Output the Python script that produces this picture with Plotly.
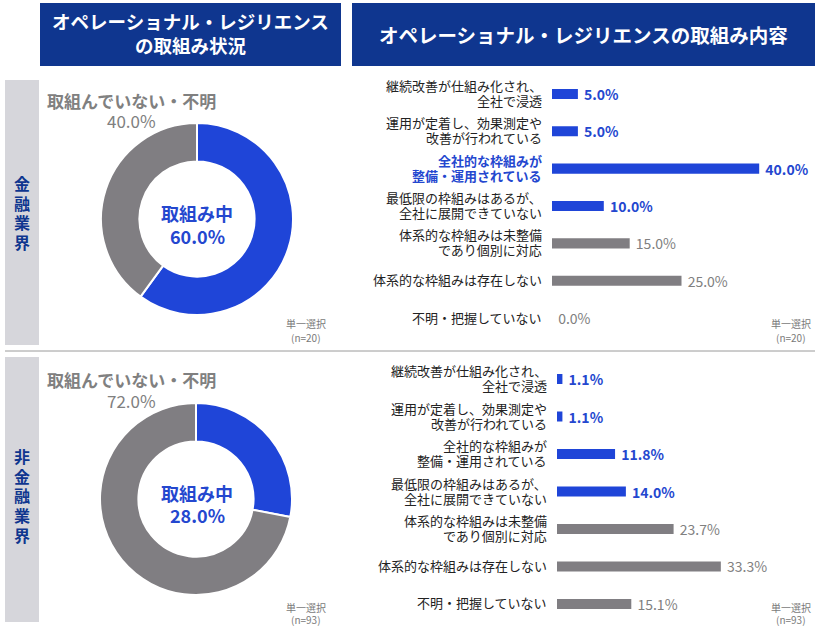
import plotly.graph_objects as go

W, H = 820, 630
def X(px): return px / W
def Y(py): return 1 - py / H

FONT = "Noto Sans CJK JP"
BLUE = "#1f45d8"
BLUE_TXT = "#2447cf"
GRAY = "#807e82"
GRAY_TXT = "#808080"
NAVY = "#0f368f"
STRIP = "#d6d6db"

# ---- data ----
header_left = ["オペレーショナル・レジリエンス", "の取組み状況"]
header_right = "オペレーショナル・レジリエンスの取組み内容"
segments = ["金融業界", "非金融業界"]
sample_n = [20, 93]
donut_labels = ["取組み中", "取組んでいない・不明"]
donut_fin = [60.0, 40.0]
donut_nonfin = [28.0, 72.0]
categories = [
    ["継続改善が仕組み化され、", "全社で浸透"],
    ["運用が定着し、効果測定や", "改善が行われている"],
    ["全社的な枠組みが", "整備・運用されている"],
    ["最低限の枠組みはあるが、", "全社に展開できていない"],
    ["体系的な枠組みは未整備", "であり個別に対応"],
    ["体系的な枠組みは存在しない"],
    ["不明・把握していない"],
]
active = [True, True, True, True, False, False, False]
bars_fin = [5.0, 5.0, 40.0, 10.0, 15.0, 25.0, 0.0]
bars_nonfin = [1.1, 1.1, 11.8, 14.0, 23.7, 33.3, 15.1]
highlight_fin = 2  # highlighted category in 金融業界 panel

fig = go.Figure()

panels = [
    dict(pie_dom=([101, 293], [123, 315]), bar_x=(552, 5.18), bar_y=(75.3, 336.7),
         vals=bars_fin, donut=donut_fin, hl=highlight_fin,
         strip=(80, 345), strip_y0=183, top_label_y=(100, 121), center_y=(213, 236),
         foot_y=(324, 337)),
    dict(pie_dom=([100, 292], [403, 595]), bar_x=(557, 4.92), bar_y=(360.3, 622.7),
         vals=bars_nonfin, donut=donut_nonfin, hl=None,
         strip=(357, 622), strip_y0=456, top_label_y=(379, 400), center_y=(493, 515),
         foot_y=(607, 619)),
]

shapes = []
annotations = []

def ann(x, y, text, size, color, **kw):
    d = dict(x=X(x), y=Y(y), xref="paper", yref="paper", text=text, showarrow=False,
             xanchor="center", yanchor="middle", align="center", borderpad=0,
             font=dict(family=FONT, size=size, color=color))
    d.update(kw)
    annotations.append(d)

# headers
shapes.append(dict(type="rect", xref="paper", yref="paper", x0=X(40), x1=X(341), y0=Y(66), y1=Y(3),
                   fillcolor=NAVY, line=dict(width=0), layer="below"))
shapes.append(dict(type="rect", xref="paper", yref="paper", x0=X(352), x1=X(815), y0=Y(66), y1=Y(3),
                   fillcolor=NAVY, line=dict(width=0), layer="below"))
ann(190.5, 21, "<b>" + header_left[0] + "</b>", 18.5, "white")
ann(190.5, 45, "<b>" + header_left[1] + "</b>", 18.5, "white")
ann(583.5, 34, "<b>" + header_right + "</b>", 19.5, "white")
# separator
shapes.append(dict(type="line", xref="paper", yref="paper", x0=X(5), x1=X(815), y0=Y(351), y1=Y(351),
                   line=dict(color="#9a9a9a", width=1)))

for i, p in enumerate(panels):
    sfx = "" if i == 0 else str(i + 1)
    shapes.append(dict(type="rect", xref="paper", yref="paper", x0=X(5), x1=X(39),
                       y0=Y(p["strip"][1]), y1=Y(p["strip"][0]), fillcolor=STRIP, line=dict(width=0), layer="below"))
    for k, ch in enumerate(segments[i]):
        ann(22, p["strip_y0"] + 19.7 * k, "<b>" + ch + "</b>", 16, NAVY)
    # donut
    (px0, px1), (py0, py1) = p["pie_dom"]
    fig.add_trace(go.Pie(labels=donut_labels, values=p["donut"], sort=False, direction="clockwise",
                         hole=0.6, textinfo="none", hoverinfo="skip",
                         marker=dict(colors=[BLUE, GRAY], line=dict(color="white", width=2)),
                         domain=dict(x=[X(px0), X(px1)], y=[Y(py1), Y(py0)]), showlegend=False))
    ann(131, p["top_label_y"][0], f"<b>{donut_labels[1]}</b>", 17, GRAY_TXT)
    ann(131, p["top_label_y"][1], f"{p['donut'][1]:.1f}%", 17, GRAY_TXT)
    ann(197, p["center_y"][0], f"<b>{donut_labels[0]}</b>", 18, BLUE_TXT)
    ann(197, p["center_y"][1], f"<b>{p['donut'][0]:.1f}%</b>", 18, BLUE_TXT)
    for fx in (306, 791):
        ann(fx, p["foot_y"][0], "単一選択", 10, "#7a7a7a")
        ann(fx, p["foot_y"][1], f"(n={sample_n[i]})", 10, "#7a7a7a")
    # bars
    vals = p["vals"]
    ypos = list(range(len(categories)))
    colors = [BLUE if a else GRAY for a in active]
    tcolors = [BLUE_TXT if a else GRAY_TXT for a in active]
    texts = [("\u00a0<b>%.1f%%</b>" % v) if a else ("\u00a0%.1f%%" % v) for v, a in zip(vals, active)]
    fig.add_trace(go.Bar(x=vals, y=ypos, orientation="h", width=0.27,
                         marker=dict(color=colors, line=dict(width=0)),
                         text=texts, textposition="outside", textangle=0, constraintext="none",
                         cliponaxis=False, textfont=dict(family=FONT, size=14, color=tcolors),
                         outsidetextfont=dict(family=FONT, size=14, color=tcolors),
                         hoverinfo="skip", showlegend=False,
                         xaxis="x" + sfx, yaxis="y" + sfx))
    # category labels, one per line, anchored to the category axis
    for k, lines in enumerate(categories):
        hl = p["hl"] == k
        n = len(lines)
        for j, ln in enumerate(lines):
            shift = 1 - (j - (n - 1) / 2) * 15
            annotations.append(dict(
                x=0, y=ypos[k], xref="x" + sfx, yref="y" + sfx, xanchor="right", yanchor="middle",
                xshift=-9, yshift=shift, showarrow=False, align="right", borderpad=0,
                text=f"<b>{ln}</b>" if hl else ln,
                font=dict(family=FONT, size=13, color=BLUE_TXT if hl else "#222222")))
    x0, scale = p["bar_x"]
    xr = 50
    fig.update_layout(**{
        "xaxis" + sfx: dict(domain=[X(x0), X(x0 + xr * scale)], range=[0, xr], visible=False,
                            anchor="y" + sfx, fixedrange=True),
        "yaxis" + sfx: dict(domain=[Y(p["bar_y"][1]), Y(p["bar_y"][0])], range=[6.5, -0.5],
                            showticklabels=False, showgrid=False, zeroline=False,
                            showline=False, ticks="", anchor="x" + sfx, fixedrange=True),
    })

fig.update_layout(width=W, height=H, margin=dict(l=0, r=0, t=0, b=0), paper_bgcolor="white",
                  plot_bgcolor="white", shapes=shapes, annotations=annotations, barmode="overlay",
                  font=dict(family=FONT), showlegend=False)
fig.write_html("out.html")
